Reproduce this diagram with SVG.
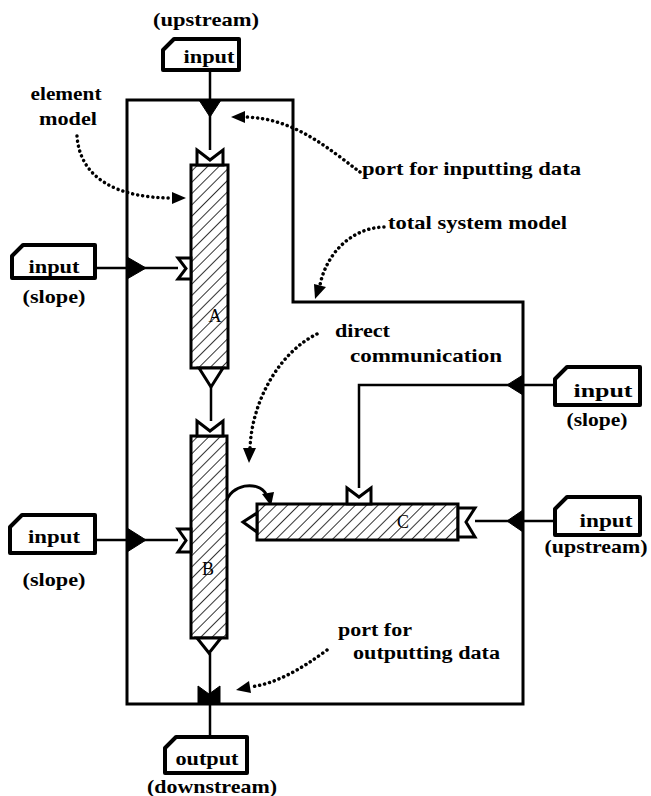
<svg xmlns="http://www.w3.org/2000/svg" width="651" height="796" viewBox="0 0 651 796">
<style>
.t{font-family:"Liberation Serif","Times New Roman",serif;font-weight:bold;font-size:19px;fill:#000}
.s{font-size:18px}
.lbl{font-family:"Liberation Serif","Times New Roman",serif;font-size:18px;fill:#000}
.box{fill:#fff;stroke:#000;stroke-width:4;stroke-linejoin:round}
.ln{fill:none;stroke:#000;stroke-width:2.5}
.sys{fill:none;stroke:#000;stroke-width:3}
.el{fill:url(#hatch);stroke:#000;stroke-width:3}
.port{fill:#fff;stroke:#000;stroke-width:3;stroke-linejoin:miter}
.blk{fill:#000;stroke:#000;stroke-width:1}
.dot{fill:none;stroke:#000;stroke-width:3.5;stroke-linecap:round;stroke-dasharray:0.1 5}
</style>
<defs>
<pattern id="hatch" patternUnits="userSpaceOnUse" width="8" height="8" patternTransform="rotate(45)">
<rect width="8" height="8" fill="#fff"/>
<line x1="0" y1="0" x2="0" y2="8" stroke="#000" stroke-width="1.6"/>
</pattern>
</defs>
<rect width="651" height="796" fill="#fff"/>

<g id="system-model">
<path class="sys" d="M127,100 H293 V302 H523 V704 H127 Z"/>
</g>

<g id="connectors">
<line class="ln" x1="210" y1="70" x2="210" y2="150"/>
<line class="ln" x1="211" y1="387" x2="211" y2="421"/>
<line class="ln" x1="210" y1="653" x2="210" y2="737"/>
<line class="ln" x1="95" y1="268" x2="178" y2="268"/>
<line class="ln" x1="95" y1="540" x2="178" y2="540"/>
<path class="ln" d="M555,385 H359 V488"/>
<line class="ln" x1="555" y1="521" x2="475" y2="521"/>
<path fill="none" stroke="#000" stroke-width="3" d="M226,503 C230,484 258,480 266,494"/>
<polygon fill="#000" points="262,494 274,492 271,506"/>
</g>

<g id="system-ports">
<polygon class="blk" points="199,100 221,100 210,117"/>
<polygon class="blk" points="127,257 127,279 146,268"/>
<polygon class="blk" points="127,528 127,552 146,540"/>
<polygon class="blk" points="523,375 523,395 507,385"/>
<polygon class="blk" points="523,510 523,532 507,521"/>
<polygon class="blk" points="198,686 209,694 220,686 220,704 198,704"/>
</g>

<g id="element-A">
<rect class="el" x="191" y="165" width="37" height="203"/>
<polygon class="port" points="197,150 210,160 223,150 223,165 197,165"/>
<polygon class="port" points="178,258 191,258 191,279 178,279 186,268.5"/>
<polygon class="port" points="199,368 223,368 211,387"/>
<text class="lbl" x="215" y="322" text-anchor="middle">A</text>
</g>

<g id="element-B">
<rect class="el" x="191" y="436" width="36" height="202"/>
<polygon class="port" points="197,421 210,431 223,421 223,436 197,436"/>
<polygon class="port" points="178,529 191,529 191,552 178,552 186,540.5"/>
<polygon class="port" points="197,638 221,638 209,653"/>
<text class="lbl" x="208" y="575" text-anchor="middle">B</text>
</g>

<g id="element-C">
<rect class="el" x="257" y="504" width="201" height="36"/>
<polygon class="port" points="347,488 359,497 371,488 371,504 347,504"/>
<polygon class="port" points="475,508 466,522 475,537 458,537 458,508"/>
<polygon class="port" points="243,522 257,513 257,532"/>
<text class="lbl" x="403" y="528" text-anchor="middle">C</text>
</g>

<g id="input-top">
<path class="box" d="M163,50 L174,39 H239 V70 H163 Z"/>
<text class="t" x="209" y="63" text-anchor="middle" textLength="51" lengthAdjust="spacingAndGlyphs">input</text>
<text class="t" x="206" y="26" text-anchor="middle" textLength="106" lengthAdjust="spacingAndGlyphs">(upstream)</text>
</g>

<g id="input-left-A">
<path class="box" d="M12,256 L23,245 H95 V278 H12 Z"/>
<text class="t" x="54" y="273" text-anchor="middle" textLength="51" lengthAdjust="spacingAndGlyphs">input</text>
<text class="t" x="54" y="303" text-anchor="middle" textLength="63" lengthAdjust="spacingAndGlyphs">(slope)</text>
</g>

<g id="input-left-B">
<path class="box" d="M10,527 L22,515 H95 V553 H10 Z"/>
<text class="t" x="54" y="543" text-anchor="middle" textLength="52" lengthAdjust="spacingAndGlyphs">input</text>
<text class="t" x="54" y="586" text-anchor="middle" textLength="63" lengthAdjust="spacingAndGlyphs">(slope)</text>
</g>

<g id="input-right-slope">
<path class="box" d="M555,379 L567,367 H640 V405 H555 Z"/>
<text class="t" x="603" y="397" text-anchor="middle" textLength="59" lengthAdjust="spacingAndGlyphs">input</text>
<text class="t" x="597" y="426" text-anchor="middle" textLength="61" lengthAdjust="spacingAndGlyphs">(slope)</text>
</g>

<g id="input-right-upstream">
<path class="box" d="M555,509 L567,497 H640 V535 H555 Z"/>
<text class="t" x="606" y="527" text-anchor="middle" textLength="53" lengthAdjust="spacingAndGlyphs">input</text>
<text class="t" x="596" y="553" text-anchor="middle" textLength="103" lengthAdjust="spacingAndGlyphs">(upstream)</text>
</g>

<g id="output-bottom">
<path class="box" d="M165,748 L176,737 H247 V773 H165 Z"/>
<text class="t" x="207" y="765" text-anchor="middle" textLength="63" lengthAdjust="spacingAndGlyphs">output</text>
<text class="t" x="212" y="793" text-anchor="middle" textLength="130" lengthAdjust="spacingAndGlyphs">(downstream)</text>
</g>

<g id="annotations">
<text class="t" x="66" y="100" text-anchor="middle" textLength="71" lengthAdjust="spacingAndGlyphs">element</text>
<text class="t" x="68" y="125" text-anchor="middle" textLength="58" lengthAdjust="spacingAndGlyphs">model</text>
<path class="dot" d="M77,136 C80,180 120,198 172,198"/>
<polygon fill="#000" points="186,198 172,192 172,204"/>

<text class="t" x="362" y="175" textLength="219" lengthAdjust="spacingAndGlyphs">port for inputting data</text>
<path class="dot" d="M360,172 C330,150 295,118 245,117"/>
<polygon fill="#000" points="231,117 245,111 245,123"/>

<text class="t" x="388" y="229" textLength="179" lengthAdjust="spacingAndGlyphs">total system model</text>
<path class="dot" d="M384,227 C350,228 326,255 320,285"/>
<polygon fill="#000" points="315,299 314,284 326,287"/>

<text class="t" x="335" y="337" textLength="55" lengthAdjust="spacingAndGlyphs">direct</text>
<text class="t" x="350" y="362" textLength="152" lengthAdjust="spacingAndGlyphs">communication</text>
<path class="dot" d="M317,334 C280,352 252,400 250,448"/>
<polygon fill="#000" points="249,463 243,448 256,448"/>

<text class="t s" x="338" y="636" textLength="74" lengthAdjust="spacingAndGlyphs">port for</text>
<text class="t s" x="353" y="659" textLength="147" lengthAdjust="spacingAndGlyphs">outputting data</text>
<path class="dot" d="M327,650 C300,670 275,684 250,687"/>
<polygon fill="#000" points="236,690 249,681 251,693"/>
</g>
</svg>
